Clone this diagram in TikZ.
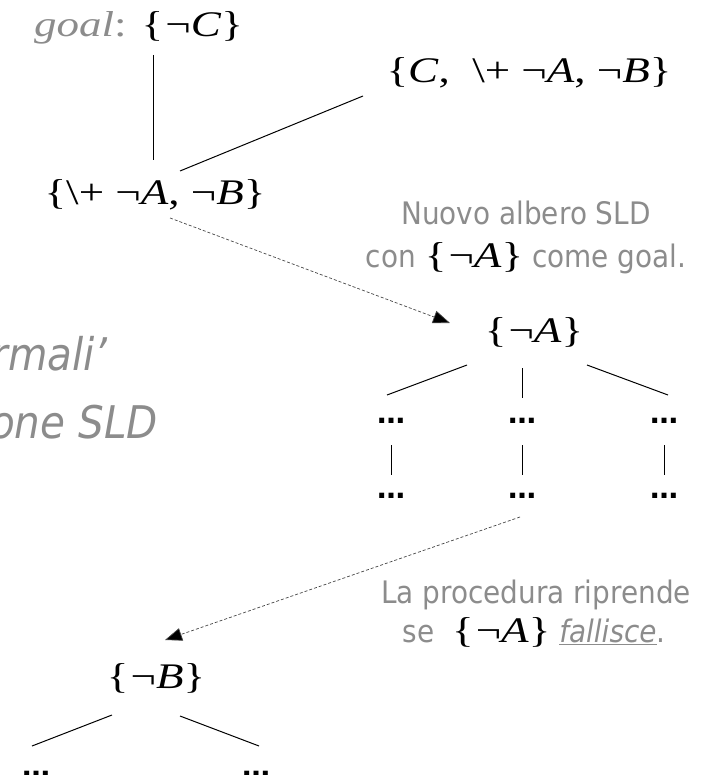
\documentclass[tikz,border=0pt]{standalone}
\usepackage{fontspec}
\setmainfont[FakeStretch=1.25]{Liberation Serif}
\newfontfamily\tah[FakeStretch=0.9]{DejaVu Sans}
\newfontfamily\dotsfont{DejaVu Sans}
\usetikzlibrary{arrows.meta}
\definecolor{note}{RGB}{140,140,140}
\definecolor{jumpline}{RGB}{70,70,70}

% one goal set: braces, negation sign and italic atoms in serif
\newcommand{\gset}[1]{\{\hspace{0.06em}#1\}}
\newcommand{\negat}[1]{¬\textit{#1}}
\newcommand{\sep}{, }

\begin{document}
\begin{tikzpicture}[x=1pt,y=-1pt,
  expr/.style={font=\fontsize{36}{36}\selectfont, inner sep=0pt, anchor=base},
  notetext/.style={font=\tah\fontsize{31}{31}\selectfont, text=note, inner sep=0pt, anchor=base},
  titletext/.style={font=\tah\itshape\fontsize{45}{45}\selectfont, text=note, inner sep=0pt, anchor=base east},
  dotrow/.style={font=\dotsfont\bfseries\fontsize{28}{28}\selectfont, inner sep=0pt, anchor=base},
  edge/.style={line width=1pt},
  jump/.style={draw=jumpline, line width=0.7pt, dash pattern=on 3pt off 2pt,
    -{Triangle[length=17pt,width=13pt,fill=black]}}]
\useasboundingbox (0,0) rectangle (707,775);
\clip (0,0) rectangle (707,775);

% slide title behind the tree, cut by the left edge
\node[titletext] (t1) at (108,370) {rmali’};
\node[titletext] (t2) at (158,438) {one SLD};

% first SLD tree
\node[expr, anchor=base west] (goal) at (34,37)
  {{\color{note}\textit{goal}:} \gset{\negat{C}}};
\node[expr] (clause) at (529,83)
  {\{\textit{C}\sep\ \textbackslash+ \negat{A}\sep\negat{B}\}};
\node[expr] (res) at (155,205)
  {\{\textbackslash+ \negat{A}\sep\negat{B}\}};

\coordinate (g0) at (153,55);
\coordinate (g1) at (153,160);
\coordinate (c0) at (363,96);
\coordinate (c1) at (180,171);
\draw[edge] (g0) -- (g1);
\draw[edge] (c0) -- (c1);

% note on the new tree
\node[notetext] (n1) at (526,225) {Nuovo albero SLD};
\node[notetext] (n2) at (526,268)
  {con {\rmfamily\color{black}\fontsize{36}{36}\selectfont\gset{\negat{A}}} come goal.};

% sub-tree for {not A}
\node[expr] (na) at (534,342) {\gset{\negat{A}}};
\node[dotrow] (d11) at (391,423) {…};
\node[dotrow] (d12) at (522,423) {…};
\node[dotrow] (d13) at (664,423) {…};
\node[dotrow] (d21) at (391,498) {…};
\node[dotrow] (d22) at (522,498) {…};
\node[dotrow] (d23) at (664,498) {…};

\coordinate (a0) at (467,365); \coordinate (a1) at (387,395);
\coordinate (b0) at (522,368); \coordinate (b1) at (522,398);
\coordinate (e0) at (587,365); \coordinate (e1) at (668,395);
\draw[edge] (a0) -- (a1);
\draw[edge] (b0) -- (b1);
\draw[edge] (e0) -- (e1);
\draw[edge] ([yshift=-22pt]d11.base) -- ([yshift=23pt]d21.base);
\draw[edge] ([yshift=-22pt]d12.base) -- ([yshift=23pt]d22.base);
\draw[edge] ([yshift=-22pt]d13.base) -- ([yshift=23pt]d23.base);

% jumps between the trees
\coordinate (j0) at (170,218);
\coordinate (j1) at (450,323);
\draw[jump] (j0) -- (j1);
\coordinate (k0) at (520,517);
\coordinate (k1) at (165,640);
\draw[jump] (k0) -- (k1);

% note on the restart
\node[notetext] (m1) at (536,603) {La procedura riprende};
\node[notetext] (m2) at (534,642)
  {se\ \ {\rmfamily\color{black}\fontsize{36}{36}\selectfont\gset{\negat{A}}} \underline{\textit{fallisce}}.};

% sub-tree for {not B}
\node[expr] (nb) at (156,688) {\gset{\negat{B}}};
\node[dotrow] (f1) at (36,776) {…};
\node[dotrow] (f2) at (256,776) {…};
\coordinate (p0) at (112,715); \coordinate (p1) at (32,746);
\coordinate (q0) at (180,716); \coordinate (q1) at (259,746);
\draw[edge] (p0) -- (p1);
\draw[edge] (q0) -- (q1);
\end{tikzpicture}
\end{document}
